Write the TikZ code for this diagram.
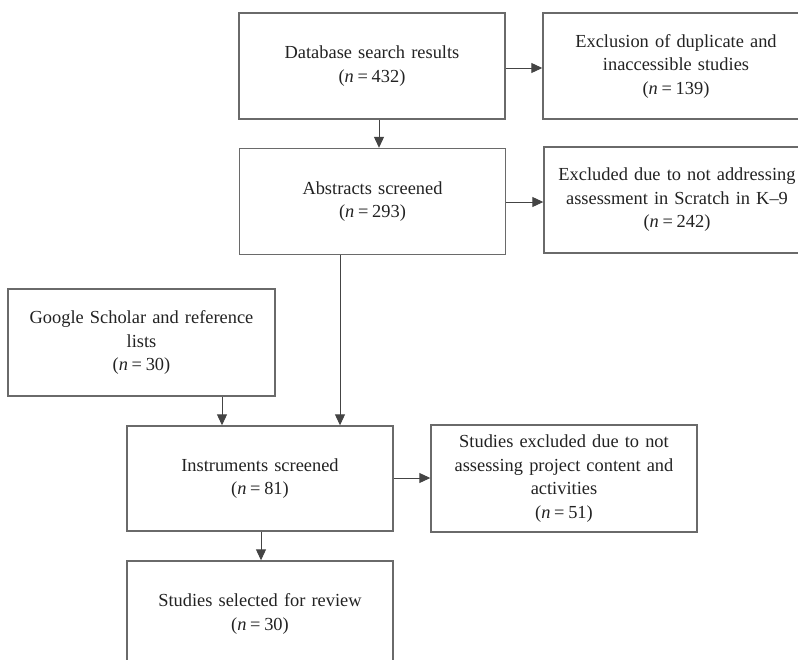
\documentclass[tikz,border=0pt]{standalone}
\usepackage{fontspec}
\setmainfont{Liberation Serif}
\usetikzlibrary{arrows.meta,calc}
\definecolor{boxline}{HTML}{6A6A6A}
\definecolor{inktext}{HTML}{222222}
\definecolor{linkline}{HTML}{444444}
\tikzset{
  stagebox/.style={draw=boxline, line width=1.4pt, rectangle, inner sep=0pt,
    minimum width=266pt, minimum height=106pt, text width=256pt, align=center,
    text=inktext, font=\fontsize{18.4}{23.5}\selectfont},
  flow/.style={draw=linkline, line width=1pt, -{Triangle[length=11pt,width=10pt]}}
}
\newcommand{\nval}[1]{(\textit{n}\hspace{0.2em}=\hspace{0.2em}#1)}
\begin{document}
\begin{tikzpicture}[x=1pt,y=-1pt]
  \useasboundingbox (0,0) rectangle (798,659);
  \clip (0,0) rectangle (798,659);

  % main column and side boxes
  \node[stagebox] (search) at (372,66) {Database search results\\\nval{432}};
  \node[stagebox] (dupl) at (676,66) {Exclusion of duplicate and\\inaccessible studies\\\nval{139}};
  \node[stagebox] (abstr) at (372.5,201.5) {Abstracts screened\\\nval{293}};
  \node[stagebox] (notk9) at (677,200) {Excluded due to not addressing\\assessment in Scratch in K--9\\\nval{242}};
  \node[stagebox, minimum width=267pt, minimum height=107pt] (scholar) at (141.5,342.5) {Google Scholar and reference\\lists\\\nval{30}};
  \node[stagebox, minimum height=105pt] (instr) at (260,478.5) {Instruments screened\\\nval{81}};
  \node[stagebox, minimum height=107pt] (notproj) at (564,478.5) {Studies excluded due to not\\assessing project content and\\activities\\\nval{51}};
  \node[stagebox] (select) at (260,614) {Studies selected for review\\\nval{30}};

  % anchor points for the vertical connectors
  \coordinate (fromsearch) at ($(search.south)+(7,0)$);
  \coordinate (fromabstr) at ($(abstr.south)+(-32.5,0)$);
  \coordinate (fromscholar) at ($(scholar.south)+(80.5,0)$);
  \coordinate (frominstr) at ($(instr.south)+(1,0)$);
  \coordinate (rowa) at (0,68);
  \coordinate (rowb) at (0,202);
  \coordinate (rowc) at (0,478);

  % connectors
  \draw[flow] (search.east |- rowa) -- (dupl.west |- rowa);
  \draw[flow] (fromsearch) -- (fromsearch |- abstr.north);
  \draw[flow] (abstr.east |- rowb) -- (notk9.west |- rowb);
  \draw[flow] (fromabstr) -- (fromabstr |- instr.north);
  \draw[flow] (fromscholar) -- (fromscholar |- instr.north);
  \draw[flow] (instr.east |- rowc) -- (notproj.west |- rowc);
  \draw[flow] (frominstr) -- (frominstr |- select.north);
\end{tikzpicture}
\end{document}
